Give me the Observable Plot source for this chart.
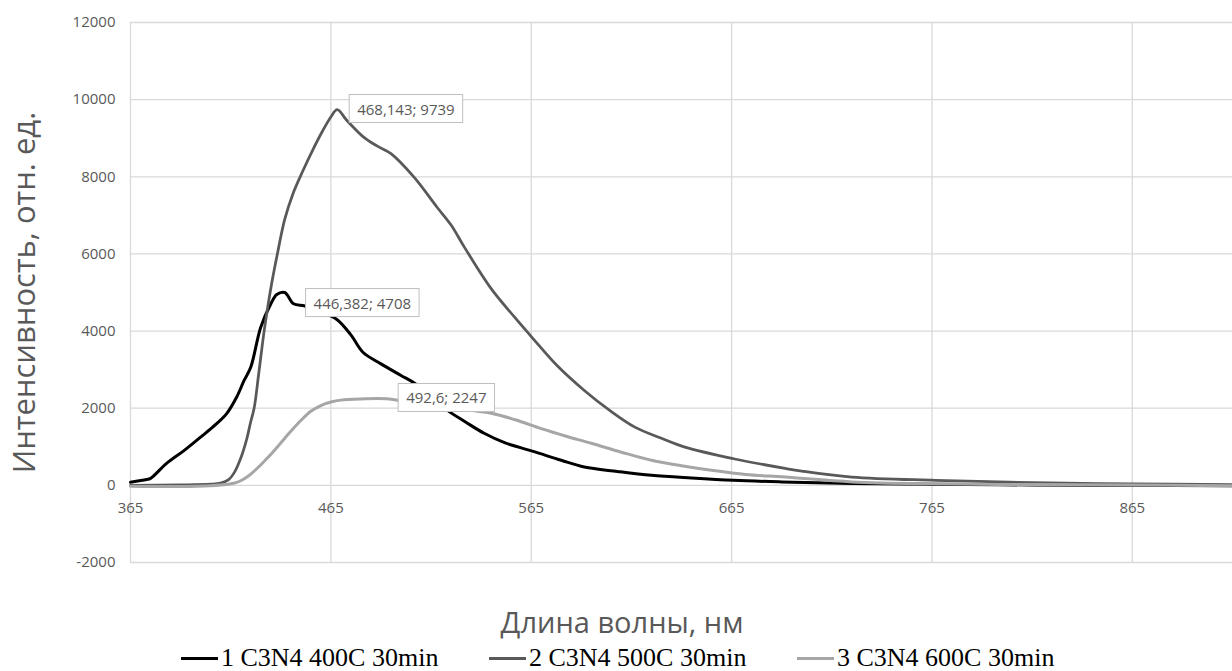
<!DOCTYPE html>
<html><head><meta charset="utf-8">
<script src="https://cdn.jsdelivr.net/npm/d3@7"></script>
<script src="https://cdn.jsdelivr.net/npm/@observablehq/plot@0.6"></script>
<style>
body{margin:0;background:#fff;font-family:"Open Sans",sans-serif;}
#chart{width:1232px;height:671px;position:relative;overflow:hidden;background:#fff}
#xtitle{position:absolute;left:0;width:1244px;top:605px;height:34px;text-align:center;font-size:29px;color:#595959;line-height:34px;font-family:"Open Sans",sans-serif;overflow:visible}
#legend{position:absolute;left:181px;top:645px;height:26px;font-family:"Liberation Serif",serif;font-size:26px;line-height:26px;white-space:nowrap;display:flex;color:#000}
.item{display:flex;align-items:center;width:308px;height:26px}
.sw{width:37px;height:3px;margin-right:3px;flex:none}
</style></head>
<body><div id="chart"></div>
<script>
// ---- data ----
const seriesNames = ["1 C3N4 400C 30min", "2 C3N4 500C 30min", "3 C3N4 600C 30min"];
const seriesColors = ["#000000", "#595959", "#a6a6a6"];
const seriesWidths = [3, 2.75, 3];

const wl1 = [365, 373, 375, 383, 391.7, 400, 408, 413, 418, 421.7, 425, 430, 435, 438, 442, 446.382, 452, 460, 468, 475, 481, 490, 500, 507, 515, 523, 532, 541.5, 552, 566, 580, 591.5, 608, 625, 645, 666, 690, 725, 765, 815, 865, 915];
const v1  = [80, 150, 180, 570, 900, 1250, 1600, 1860, 2290, 2720, 3060, 4100, 4700, 4950, 5000, 4708, 4650, 4500, 4300, 3900, 3450, 3150, 2850, 2640, 2300, 1950, 1650, 1350, 1100, 880, 650, 475, 360, 260, 190, 130, 90, 50, 30, 10, 0, -10];

const wl2 = [365, 390, 405, 410, 414, 417, 420, 423, 425, 426.7, 429, 431.7, 435, 438.3, 442, 446, 451, 456, 461, 465, 468.143, 473, 481.5, 488, 495, 506.5, 518, 525, 531.7, 545, 556.7, 566, 578, 591.5, 604, 616.7, 630, 641.7, 666, 691.7, 700, 725, 766.7, 815, 865, 915];
const v2  = [0, 10, 30, 60, 150, 350, 700, 1200, 1650, 2000, 2900, 4000, 5100, 6000, 6900, 7550, 8150, 8700, 9200, 9550, 9739, 9460, 9020, 8800, 8600, 7990, 7210, 6750, 6170, 5100, 4360, 3800, 3100, 2460, 1950, 1510, 1220, 990, 690, 440, 370, 215, 130, 70, 40, 20];

const wl3 = [365, 390, 405, 413, 417, 420, 424, 428, 432, 436, 440, 445, 450, 455, 460, 465, 470, 480, 492.6, 505, 520, 545, 557, 570, 582, 595, 610, 625, 640, 655, 672, 691.7, 725, 765, 815, 865, 915];
const v3  = [-20, -30, -10, 20, 60, 120, 250, 430, 640, 860, 1100, 1400, 1680, 1920, 2070, 2160, 2210, 2240, 2247, 2150, 2030, 1870, 1700, 1470, 1280, 1090, 860, 650, 510, 390, 280, 215, 90, 40, 20, 10, -10];

const peakWl  = [468.143, 446.382, 492.6];
const peakVal = [9739, 4708, 2247];

const xTicks = [365, 465, 565, 665, 765, 865];
const yTicks = [-2000, 0, 2000, 4000, 6000, 8000, 10000, 12000];
const xTitle = "Длина волны, нм";
const yTitle = "Интенсивность, отн. ед.";

// ---- build ----
const wls = [wl1, wl2, wl3], vals = [v1, v2, v3];
const seriesData = wls.map((w, s) => w.map((x, i) => ({wl: x, val: vals[s][i]})));
const peaks = peakWl.map((w, i) => ({wl: w, val: peakVal[i], label: String(w).replace(".", ",") + "; " + peakVal[i]}));
const labelSet = new Set(peaks.map(p => p.label));

const plot = Plot.plot({
  width: 1232, height: 600,
  marginLeft: 130, marginRight: 0, marginTop: 22, marginBottom: 38,
  x: {domain: [365, 915], axis: null},
  y: {domain: [-2000, 12000], axis: null},
  style: {fontFamily: "'Open Sans', sans-serif", fontSize: "15px", color: "#595959", background: "white", overflow: "visible"},
  marks: [
    Plot.ruleY(yTicks, {y: d => d, stroke: "#d9d9d9", strokeWidth: 1.3}),
    Plot.ruleX(xTicks, {x: d => d, stroke: "#d9d9d9", strokeWidth: 1.3}),
    Plot.axisY({ticks: yTicks, tickSize: 0, tickPadding: 15, tickFormat: d => String(d), label: null, fontSize: 15, fill: "#595959"}),
    Plot.text(xTicks, {x: d => d, y: 0, dy: 23, text: d => String(d), fill: "#595959", fontSize: 15}),
    Plot.text([yTitle], {frameAnchor: "left", textAnchor: "middle", dx: -105, rotate: -90, text: d => d, fontSize: 31, fill: "#595959"}),
    ...seriesData.map((data, s) => Plot.line(data, {x: "wl", y: "val", stroke: seriesColors[s], strokeWidth: seriesWidths[s], curve: "catmull-rom", strokeLinejoin: "round"})),
    Plot.text(peaks, {x: "wl", y: "val", text: "label", textAnchor: "start", dx: 20, fill: "#595959", fontSize: 15})
  ]
});

const chart = document.getElementById("chart");
chart.appendChild(plot);

// boxes behind the peak labels
const NS = "http://www.w3.org/2000/svg";
plot.querySelectorAll("text").forEach(t => {
  if (!labelSet.has(t.textContent)) return;
  const b = t.getBBox();
  const r = document.createElementNS(NS, "rect");
  r.setAttribute("x", b.x - 8);
  r.setAttribute("y", b.y - 4);
  r.setAttribute("width", b.width + 16);
  r.setAttribute("height", b.height + 8);
  r.setAttribute("fill", "white");
  r.setAttribute("stroke", "#bfbfbf");
  r.setAttribute("stroke-width", "1");
  const tr = t.getAttribute("transform");
  if (tr) r.setAttribute("transform", tr);
  t.parentNode.insertBefore(r, t);
});

// x title
const xt = document.createElement("div");
xt.id = "xtitle";
xt.textContent = xTitle;
chart.appendChild(xt);

// legend
const lg = document.createElement("div");
lg.id = "legend";
seriesNames.forEach((n, i) => {
  const it = document.createElement("div");
  it.className = "item";
  const sw = document.createElement("span");
  sw.className = "sw";
  sw.style.background = seriesColors[i];
  const tx = document.createElement("span");
  tx.textContent = n;
  it.appendChild(sw); it.appendChild(tx);
  lg.appendChild(it);
});
chart.appendChild(lg);
</script>
</body></html>
